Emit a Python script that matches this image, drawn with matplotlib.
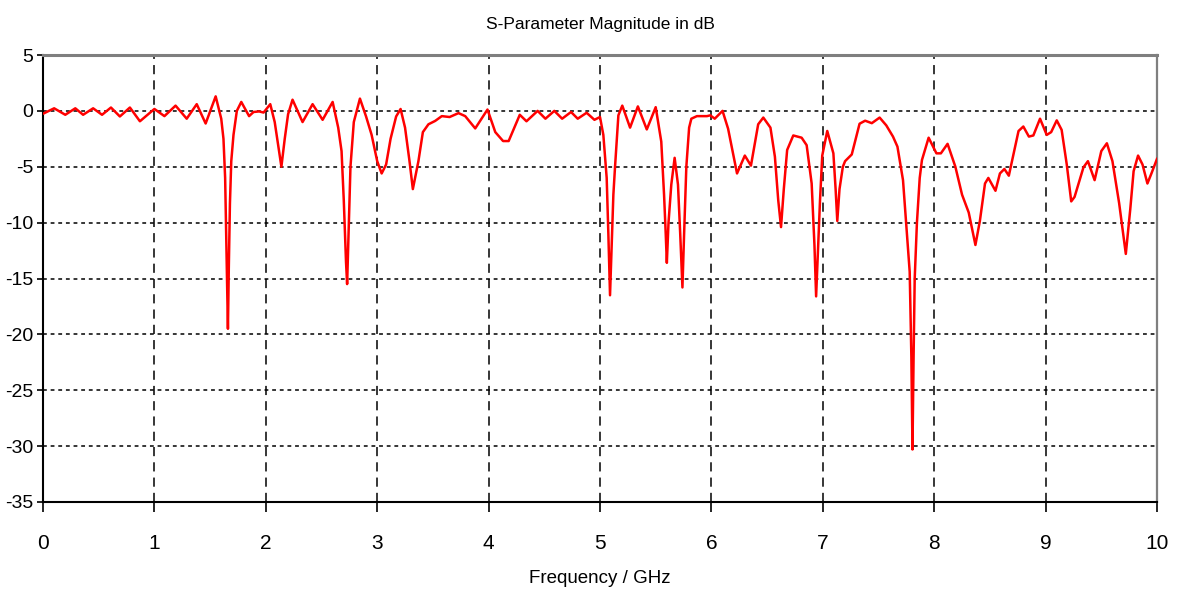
import numpy as np
import matplotlib
matplotlib.use('Agg')
import matplotlib.pyplot as plt

# S11 curve (GHz, dB)
freq_ghz = [
    0.00, 0.10, 0.20, 0.29, 0.36, 0.45, 0.53, 0.61, 0.69, 0.78, 0.87, 1.00,
    1.09, 1.19, 1.29, 1.38, 1.46, 1.55, 1.60, 1.62, 1.635, 1.648, 1.66, 1.668,
    1.678, 1.69, 1.71, 1.74, 1.78, 1.85, 1.89, 1.94, 1.98, 2.04, 2.08, 2.11,
    2.14, 2.17, 2.20, 2.24, 2.33, 2.42, 2.51, 2.60, 2.65, 2.68, 2.70, 2.72,
    2.73, 2.74, 2.76, 2.79, 2.845, 2.90, 2.95, 3.00, 3.04, 3.08, 3.12, 3.17,
    3.21, 3.25, 3.29, 3.32, 3.37, 3.41, 3.46, 3.52, 3.58, 3.65, 3.73, 3.79,
    3.88, 3.99, 4.06, 4.13, 4.18, 4.28, 4.34, 4.44, 4.51, 4.59, 4.66, 4.74,
    4.80, 4.88, 4.95, 5.00, 5.03, 5.06, 5.075, 5.09, 5.105, 5.12, 5.135, 5.165,
    5.20, 5.27, 5.34, 5.42, 5.50, 5.55, 5.575, 5.59, 5.60, 5.615, 5.64, 5.67,
    5.70, 5.72, 5.74, 5.755, 5.775, 5.80, 5.82, 5.87, 5.96, 5.99, 6.03, 6.10,
    6.15, 6.23, 6.30, 6.355, 6.42, 6.466, 6.53, 6.57, 6.60, 6.625, 6.65, 6.68,
    6.735, 6.81, 6.855, 6.90, 6.925, 6.94, 6.955, 6.975, 6.995, 7.04, 7.095, 7.115,
    7.13, 7.15, 7.18, 7.20, 7.26, 7.33, 7.38, 7.44, 7.51, 7.57, 7.63, 7.67,
    7.72, 7.75, 7.78, 7.795, 7.805, 7.815, 7.825, 7.845, 7.87, 7.89, 7.95, 8.02,
    8.06, 8.12, 8.19, 8.25, 8.31, 8.37, 8.41, 8.456, 8.486, 8.55, 8.59, 8.63,
    8.67, 8.757, 8.80, 8.85, 8.89, 8.95, 9.01, 9.05, 9.10, 9.144, 9.19, 9.23,
    9.26, 9.34, 9.38, 9.44, 9.50, 9.55, 9.60, 9.66, 9.72, 9.76, 9.79, 9.83,
    9.87, 9.914, 9.95, 10.0,
]
s11_db = [
    -0.26, 0.23, -0.35, 0.23, -0.35, 0.23, -0.35, 0.30, -0.50, 0.30, -0.93, 0.17,
    -0.47, 0.47, -0.70, 0.60, -1.13, 1.30, -0.70, -2.5, -6.0, -13.0, -19.5, -14.0,
    -8.3, -4.5, -2.15, 0.0, 0.80, -0.47, -0.10, -0.05, -0.15, 0.60, -1.0, -3.0,
    -5.0, -2.5, -0.3, 1.0, -1.0, 0.60, -0.80, 0.80, -1.5, -3.6, -8.0, -13.5,
    -15.5, -12.0, -5.0, -1.0, 1.1, -0.5, -2.15, -4.5, -5.6, -4.8, -2.5, -0.5,
    0.17, -1.5, -4.5, -7.0, -4.5, -1.9, -1.2, -0.9, -0.47, -0.55, -0.2, -0.47,
    -1.57, 0.12, -1.9, -2.7, -2.7, -0.35, -0.93, 0.0, -0.7, 0.0, -0.7, -0.1,
    -0.7, -0.17, -0.8, -0.55, -2.15, -6.0, -11.0, -16.5, -12.0, -7.5, -5.0, -0.4,
    0.47, -1.5, 0.4, -1.66, 0.33, -2.75, -7.5, -11.0, -13.6, -10.0, -6.6, -4.2,
    -6.6, -11.0, -15.8, -11.0, -5.0, -1.5, -0.7, -0.47, -0.47, -0.4, -0.7, 0.0,
    -1.6, -5.6, -4.0, -4.9, -1.2, -0.6, -1.5, -4.1, -8.0, -10.4, -7.0, -3.5,
    -2.2, -2.4, -3.07, -6.5, -12.0, -16.6, -13.0, -8.0, -4.0, -1.8, -3.8, -7.0,
    -9.85, -7.0, -5.0, -4.5, -3.9, -1.15, -0.88, -1.1, -0.6, -1.3, -2.3, -3.2,
    -6.2, -10.3, -14.4, -22.0, -30.3, -22.0, -15.0, -10.0, -6.0, -4.4, -2.4, -3.8,
    -3.8, -2.95, -5.0, -7.5, -9.1, -12.0, -9.85, -6.5, -6.0, -7.15, -5.6, -5.2,
    -5.8, -1.8, -1.4, -2.3, -2.2, -0.7, -2.15, -1.9, -0.85, -1.7, -4.8, -8.1,
    -7.7, -5.05, -4.5, -6.2, -3.6, -2.9, -4.5, -8.25, -12.8, -8.8, -5.4, -4.0,
    -4.8, -6.5, -5.6, -4.3,
]

x_ticks = list(range(0, 11))
y_ticks = list(range(-35, 6, 5))

plt.rcParams['font.family'] = ['Liberation Sans', 'DejaVu Sans']
plt.rcParams['axes.unicode_minus'] = False

fig = plt.figure(figsize=(11.79, 5.99), dpi=100)
ax = fig.add_axes([43 / 1179, 1 - 502 / 599, (1157 - 43) / 1179, (502 - 55) / 599])

ax.plot(freq_ghz, s11_db, color='#ff0000', linewidth=1.8, zorder=3)

ax.set_xlim(0, 10)
ax.set_ylim(-35, 5)
ax.set_xticks(x_ticks)
ax.set_yticks(y_ticks)

# vertical grid dashed, horizontal grid dotted
ax.xaxis.grid(True, color='black', linewidth=1.1, linestyle=(0, (6, 4)))
ax.yaxis.grid(True, color='black', linewidth=1.1, linestyle=(0, (2.5, 2.5)))

ax.tick_params(axis='x', direction='out', length=7, width=1.2, pad=16, labelsize=15)
ax.tick_params(axis='y', direction='out', length=4, width=1.2, pad=3, labelsize=14)

for side in ['left', 'bottom']:
    ax.spines[side].set_color('black')
    ax.spines[side].set_linewidth(1.5)
ax.spines['top'].set_color('#7f7f7f')
ax.spines['top'].set_linewidth(2.2)
ax.spines['right'].set_color('#7f7f7f')
ax.spines['right'].set_linewidth(1.6)

ax.set_title("S-Parameter Magnitude in dB", fontsize=12.5, pad=19)
ax.set_xlabel("Frequency / GHz", fontsize=13.5, labelpad=12)

fig.savefig("out.png", dpi=100)
